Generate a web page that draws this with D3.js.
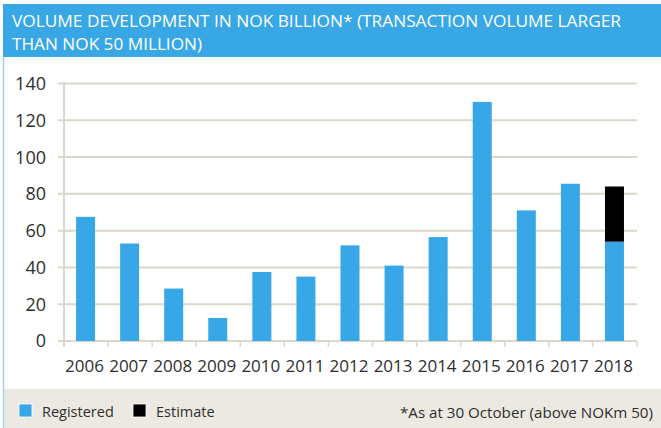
<!DOCTYPE html>
<html>
<head>
<meta charset="utf-8">
<script src="https://cdn.jsdelivr.net/npm/d3@7/dist/d3.min.js"></script>
<style>
  html, body { margin: 0; padding: 0; background: #fff; }
  svg { display: block; font-family: "Open Sans", "DejaVu Sans", sans-serif; }
</style>
</head>
<body>
<svg id="chart" width="661" height="428"></svg>
<script>
// Transaction volume, NOK billion
const years = ["2006","2007","2008","2009","2010","2011","2012","2013","2014","2015","2016","2017","2018"];
const registered = [67.5, 53, 28.5, 12.5, 37.5, 35, 52, 41, 56.5, 130, 71, 85.5, 54];
const estimate   = [0, 0, 0, 0, 0, 0, 0, 0, 0, 0, 0, 0, 30];
const yTicks = [0, 20, 40, 60, 80, 100, 120, 140];

const titleLines = [
  "VOLUME DEVELOPMENT IN NOK BILLION* (TRANSACTION VOLUME LARGER",
  "THAN NOK 50 MILLION)"
];
const legendItems = [
  { label: "Registered", color: "#38a7e7" },
  { label: "Estimate", color: "#000000" }
];
const footnote = "*As at 30 October (above NOKm 50)";

const BLUE = "#38a7e7";
const GRID = "#dcd7cb";
const INK = "#2e2e2e";

const svg = d3.select("#chart");
const W = 661, H = 428;

// card background, header band and footer band
svg.append("rect").attr("x", 0).attr("y", 0).attr("width", W).attr("height", H).attr("fill", "#fff");
svg.append("rect").attr("x", 3).attr("y", 4).attr("width", W - 3).attr("height", 53).attr("fill", "#38a7e5");
svg.append("rect").attr("x", 3).attr("y", 389).attr("width", W - 3).attr("height", H - 389).attr("fill", "#ece9e2");
svg.append("line").attr("x1", 3.5).attr("x2", 3.5).attr("y1", 57).attr("y2", H)
  .attr("stroke", "#9fd2f2").attr("stroke-width", 1.5);

// header title
const titleWidths = [609, 190];
svg.append("g").selectAll("text").data(titleLines).join("text")
  .attr("x", 12)
  .attr("y", (d, i) => 27 + i * 23)
  .attr("fill", "#fff")
  .attr("font-size", 17)
  .attr("textLength", (d, i) => titleWidths[i])
  .attr("lengthAdjust", "spacingAndGlyphs")
  .text(d => d);

// scales
const x = d3.scaleBand().domain(years).range([64, 637]).padding(0);
const y = d3.scaleLinear().domain([0, 140]).range([341, 83.5]);
const barW = 19;

// horizontal gridlines, extending left as ticks
svg.append("g").selectAll("line").data(yTicks).join("line")
  .attr("x1", 58).attr("x2", 637)
  .attr("y1", d => y(d)).attr("y2", d => y(d))
  .attr("stroke", GRID).attr("stroke-width", 2);

// vertical axis line
svg.append("line").attr("x1", 64).attr("x2", 64).attr("y1", y(140) - 1).attr("y2", y(0) + 6)
  .attr("stroke", GRID).attr("stroke-width", 2);

// x tick marks at category boundaries
const bounds = years.map(d => x(d)).concat([x.range()[1]]);
svg.append("g").selectAll("line").data(bounds.slice(1)).join("line")
  .attr("x1", d => d).attr("x2", d => d)
  .attr("y1", y(0)).attr("y2", y(0) + 6)
  .attr("stroke", GRID).attr("stroke-width", 1.5);

// y labels
svg.append("g").selectAll("text").data(yTicks).join("text")
  .attr("x", 46).attr("y", d => y(d))
  .attr("dy", "0.36em")
  .attr("text-anchor", "end")
  .attr("font-size", 18)
  .attr("fill", INK)
  .text(d => d);

// x labels
svg.append("g").selectAll("text").data(years).join("text")
  .attr("x", d => x(d) + x.bandwidth() / 2 - 1.5)
  .attr("y", 372)
  .attr("text-anchor", "middle")
  .attr("font-size", 17)
  .attr("fill", INK)
  .text(d => d);

// stacked bars
const barX = d => x(d) + x.bandwidth() / 2 - 0.5 - barW / 2;
svg.append("g").selectAll("rect").data(years).join("rect")
  .attr("x", barX)
  .attr("width", barW)
  .attr("y", (d, i) => y(registered[i]))
  .attr("height", (d, i) => y(0) - y(registered[i]))
  .attr("fill", BLUE);
svg.append("g").selectAll("rect").data(years.filter((d, i) => estimate[i] > 0)).join("rect")
  .attr("x", barX)
  .attr("width", barW)
  .attr("y", d => { const i = years.indexOf(d); return y(registered[i] + estimate[i]); })
  .attr("height", d => { const i = years.indexOf(d); return y(registered[i]) - y(registered[i] + estimate[i]); })
  .attr("fill", "#000");

// legend
const legendX = [19, 133];
const lg = svg.append("g").selectAll("g").data(legendItems).join("g")
  .attr("transform", (d, i) => `translate(${legendX[i]},404)`);
lg.append("rect").attr("width", 13).attr("height", 13).attr("fill", d => d.color)
  .attr("stroke", "#fff").attr("stroke-width", 0.8);
lg.append("text").attr("x", 23).attr("y", 13).attr("font-size", 14.5).attr("fill", INK).text(d => d.label);

// footnote
svg.append("text").attr("x", 653).attr("y", 418)
  .attr("text-anchor", "end").attr("font-size", 14.5).attr("fill", INK)
  .attr("textLength", 253).attr("lengthAdjust", "spacingAndGlyphs")
  .text(footnote);
</script>
</body>
</html>
